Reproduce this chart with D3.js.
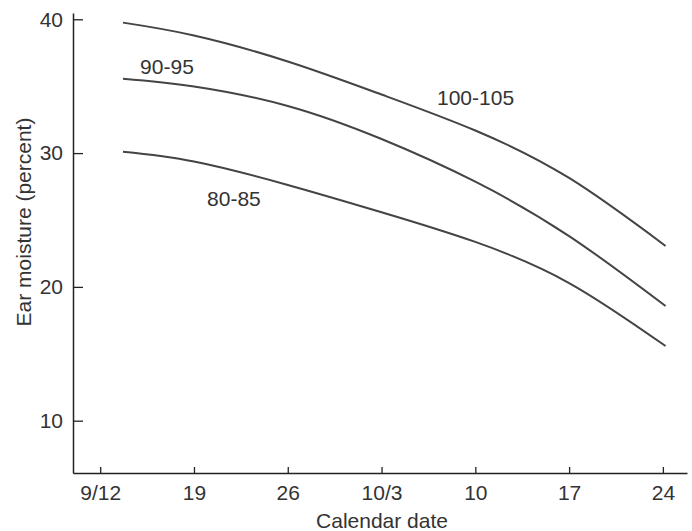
<!DOCTYPE html>
<html>
<head>
<meta charset="utf-8">
<script src="https://cdn.jsdelivr.net/npm/d3@7"></script>
<style>
  html, body { margin: 0; padding: 0; background: #fff; }
  svg { display: block; }
  text { font-family: "Liberation Sans", Arial, sans-serif; fill: #333; }
</style>
</head>
<body>
<svg id="chart" width="692" height="531"></svg>
<script>
// Days counted from Sept 12
const days = [1.7, 7, 14, 21, 28, 35, 42.2];
const series1 = [39.75, 38.79, 36.85, 34.38, 31.69, 28.14, 23.06]; // 100-105
const series2 = [35.56, 34.98, 33.52, 31.05, 27.86, 23.80, 18.57]; // 90-95
const series3 = [30.10, 29.37, 27.62, 25.58, 23.36, 20.29, 15.58]; // 80-85
const seriesNames = ["100-105", "90-95", "80-85"];
// label anchors in data units: [day, moisture]
const labelDays = [25.14, 2.98, 7.98];
const labelValues = [33.59, 35.91, 26.05];

const xTickValues = [0, 7, 14, 21, 28, 35, 42];
const xTickLabels = ["9/12", "19", "26", "10/3", "10", "17", "24"];
const yTickValues = [10, 20, 30, 40];

const svg = d3.select("#chart");

const x = d3.scaleLinear().domain([-2.03, 43.8]).range([73, 687]);
const y = d3.scaleLinear().domain([6.09, 40.47]).range([473, 13]);

const yAxis = d3.axisLeft(y)
  .tickValues(yTickValues)
  .tickSizeInner(-10)
  .tickSizeOuter(0)
  .tickPadding(10)
  .tickFormat(d3.format("d"));

const xAxis = d3.axisBottom(x)
  .tickValues(xTickValues)
  .tickSizeInner(-6)
  .tickSizeOuter(0)
  .tickPadding(12)
  .tickFormat((d, i) => xTickLabels[i]);

const gy = svg.append("g").attr("transform", "translate(73,0)").call(yAxis);
const gx = svg.append("g").attr("transform", "translate(0,473)").call(xAxis);

[gx, gy].forEach(g => {
  g.select(".domain").attr("stroke", "#222").attr("stroke-width", 1.5);
  g.selectAll(".tick line").attr("stroke", "#222").attr("stroke-width", 1.3);
  g.selectAll(".tick text")
    .attr("font-family", "Liberation Sans, Arial, sans-serif")
    .attr("font-size", 21)
    .attr("fill", "#333");
});

const line = d3.line()
  .x((d, i) => x(days[i]))
  .y(d => y(d))
  .curve(d3.curveNatural);

[series1, series2, series3].forEach(s => {
  svg.append("path")
    .datum(s)
    .attr("d", line)
    .attr("fill", "none")
    .attr("stroke", "#444")
    .attr("stroke-width", 2);
});

seriesNames.forEach((name, i) => {
  svg.append("text")
    .attr("x", x(labelDays[i]))
    .attr("y", y(labelValues[i]))
    .attr("font-size", 21)
    .text(name);
});

svg.append("text")
  .attr("x", 382)
  .attr("y", 528)
  .attr("text-anchor", "middle")
  .attr("font-size", 21)
  .text("Calendar date");

svg.append("text")
  .attr("transform", "translate(31,222) rotate(-90)")
  .attr("text-anchor", "middle")
  .attr("font-size", 21)
  .text("Ear moisture (percent)");
</script>
</body>
</html>
